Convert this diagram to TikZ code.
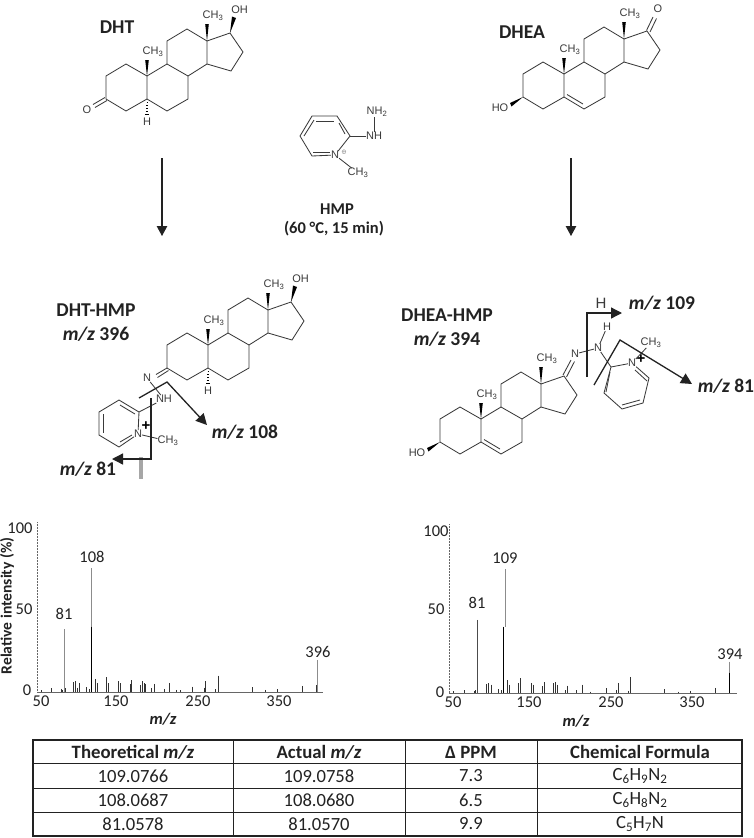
\documentclass[tikz,border=0pt]{standalone}
\usepackage{fontspec}
\setmainfont{Carlito}
\newfontfamily\chemfont{Liberation Sans}
\usetikzlibrary{arrows.meta}
\definecolor{inkdark}{HTML}{222222}
\definecolor{bondgrey}{HTML}{3A3A3A}
\tikzstyle{bond} = [line width=0.85pt, draw=bondgrey]
\tikzstyle{wedge} = [fill=black, draw=none]
\tikzstyle{atom} = [font=\chemfont\fontsize{11}{12}\selectfont, text=bondgrey, inner sep=0pt]
\tikzstyle{title} = [font=\bfseries\fontsize{19.6}{22}\selectfont, text=inkdark, inner sep=0pt]
\tikzstyle{reagent} = [font=\bfseries\fontsize{14}{17}\selectfont, text=inkdark, inner sep=0pt]
\tikzstyle{frag} = [font=\bfseries\fontsize{19.5}{20}\selectfont, text=inkdark, inner sep=0pt]
\tikzstyle{arrow} = [line width=1.1pt, draw=inkdark, -{Triangle[length=10pt,width=10.5pt]}]
\tikzstyle{cut} = [line width=1.3pt, draw=inkdark, -{Triangle[length=11pt,width=11pt]}]
\tikzstyle{tick} = [font=\fontsize{16.5}{18}\selectfont, text=inkdark, inner sep=0pt]
\tikzstyle{peak} = [line width=0.7pt, draw=black!80]
\tikzstyle{tallpeak} = [line width=0.9pt, draw=black!45]
\tikzstyle{plotaxis} = [line width=0.5pt, draw=black!60]
\tikzstyle{cell} = [font=\fontsize{18.6}{20}\selectfont, text=inkdark, inner sep=0pt]
\tikzstyle{headcell} = [cell, font=\bfseries\fontsize{18.8}{20}\selectfont]
\tikzstyle{rule} = [line width=1.1pt, draw=inkdark]
\newcommand{\mz}{\textit{m/z}}
\newcommand{\methyl}{CH\textsubscript{3}}

% four rings, origin on the ring-fusion carbon that carries the lower methyl
\newcommand{\steroidcore}{
\coordinate (C1) at (-21,-12);
\coordinate (C2) at (-41,0);
\coordinate (C3) at (-41,23);
\coordinate (C4) at (-21,35);
\coordinate (C5) at (0,23);
\coordinate (C6) at (20,35);
\coordinate (C7) at (41,23);
\coordinate (C8) at (41,0);
\coordinate (C9) at (20,-12);
\coordinate (C10) at (0,0);
\coordinate (C11) at (20,-35);
\coordinate (C12) at (40,-47);
\coordinate (C13) at (60,-35);
\coordinate (C14) at (60,-12);
\coordinate (C15) at (84,-5);
\coordinate (C16) at (96,-24);
\coordinate (C17) at (83,-43);
\draw [bond, line join=round] (C10) -- (C1) -- (C2) -- (C3) -- (C4) -- (C5) -- (C6) -- (C7) -- (C8) -- (C9) -- (C10) -- (C5);
\draw [bond, line join=round] (C9) -- (C11) -- (C12) -- (C13) -- (C14) -- (C8);
\draw [bond, line join=round] (C13) -- (C17) -- (C16) -- (C15) -- (C14);
\fill [wedge] (C10) -- (1.8,-16) -- (-1.8,-16) -- cycle;
\fill [wedge] (C13) -- (61.8,-52) -- (58.2,-52) -- cycle;
\node (lowmethyl) [atom] at (6,-24) {\methyl};
\node (topmethyl) [atom] at (66,-60) {\methyl};
}
\newcommand{\hydroxyup}{
\fill [wedge] (C17) -- (89,-58) -- (85,-59.5) -- cycle;
\node (hydroxy) [atom] at (92.5,-66.5) {OH};
}
\newcommand{\hydrogendown}{
\foreach \h in {26,29,32,35,38}
  \draw [line width=0.6pt, draw=black] ({-(\h-23)*0.11},\h) -- ({(\h-23)*0.11},\h);
\node (hydrogen) [atom] at (0,46) {H};
}

\begin{document}
\begin{tikzpicture}[x=1pt,y=-1pt]
\useasboundingbox (0,0) rectangle (754,838);

%starting steroids
\begin{scope}[shift={(147,76)}, name prefix=dht-]
\steroidcore
\hydroxyup
\hydrogendown
\draw [bond] (-42,21.5) -- (-54,28.5);
\draw [bond] (-40,24.5) -- (-52,31.5);
\node (oxo) [atom] at (-60,34) {O};
\end{scope}

\begin{scope}[shift={(564,74)}, name prefix=dhea-]
\steroidcore
\draw [bond] (3,20.5) -- (19,30);
\fill [wedge] (C3) -- (-54,29) -- (-52.5,32.5) -- cycle;
\node (hydroxy) [atom] at (-64,34) {HO};
\draw [bond] (82.5,-43.5) -- (89,-57);
\draw [bond] (86,-42) -- (92.5,-55.5);
\node (oxo) [atom] at (94,-65) {O};
\end{scope}

\node (dhtlabel) [title] at (117,27) {DHT};
\node (dhealabel) [title] at (522,32) {DHEA};

%reagent
\coordinate (hmpA) at (312,116);
\coordinate (hmpB) at (337,116);
\coordinate (hmpC) at (350,136);
\coordinate (hmpD) at (337,155);
\coordinate (hmpE) at (312,156);
\coordinate (hmpF) at (300,136);
\node (hmpN) [atom] at (335,155) {N};
\node (hmpNH) [atom] at (374,136) {NH};
\node (hmpNHtwo) [atom] at (377,112) {NH\textsubscript{2}};
\node (hmpMe) [atom] at (358,173) {\methyl};
\node (hmpPlus) [atom, font=\chemfont\fontsize{5}{6}\selectfont] at (344,152) {$\oplus$};
\draw [bond, line join=round] (hmpN) -- (hmpE) -- (hmpF) -- (hmpA) -- (hmpB) -- (hmpC) -- (hmpN);
\draw [bond] (316,121) -- (334,121);
\draw [bond] (339,123) -- (345,134);
\draw [bond] (313,152) -- (330,152);
\draw [bond] (304,136) -- (314,120);
\draw [bond] (hmpC) -- (hmpNH);
\draw [bond] (hmpNH) -- (hmpNHtwo.south -| hmpNH);
\draw [bond] (hmpN) -- (hmpMe);
\node (hmplabel) [reagent, font=\bfseries\fontsize{16.5}{18}\selectfont] at (337,209) {HMP};
\node (hmpcond) [reagent, font=\bfseries\fontsize{16.5}{18}\selectfont] at (334,229) {(60 °C, 15 min)};

\coordinate (leftTop) at (162,158);
\coordinate (leftEnd) at (162,236);
\coordinate (rightTop) at (571,158);
\coordinate (rightEnd) at (571,236);
\draw [arrow] (leftTop) -- (leftEnd);
\draw [arrow] (rightTop) -- (rightEnd);

%derivatised DHT
\begin{scope}[shift={(208,345)}, name prefix=dhthmp-]
\steroidcore
\hydroxyup
\hydrogendown
\end{scope}
\node (dhthmplabel) [title] at (96,310) {DHT-HMP};
\node (dhthmpmz) [title] at (96,334) {\mz{} 396};
\node (iminoN) [atom] at (147,378) {N};
\draw [bond] (dhthmp-C3) -- (156,374.5);
\draw [bond] (168.5,370.5) -- (157.5,377.5);
\node (hydrazoNH) [atom] at (164,399) {NH};
\coordinate (pyrA) at (119,400);
\coordinate (pyrB) at (139,412);
\coordinate (pyrC) at (139,435);
\coordinate (pyrD) at (119,447);
\coordinate (pyrE) at (99,435);
\coordinate (pyrF) at (99,412);
\node (pyrN) [atom] at (138,434) {N};
\node (pyrMe) [atom] at (168,441) {\methyl};
\node (pyrPlus) [font=\chemfont\bfseries\fontsize{15}{16}\selectfont, inner sep=0pt] at (146,426) {+};
\draw [bond, line join=round] (pyrN) -- (pyrD) -- (pyrE) -- (pyrF) -- (pyrA) -- (pyrB) -- (pyrN);
\draw [bond] (103,414) -- (103,433);
\draw [bond] (120,405) -- (135,414);
\draw [bond] (120,442) -- (132,435);
\draw [bond] (pyrB) -- (hydrazoNH);
\draw [bond] (iminoN) -- (hydrazoNH);
\draw [bond] (pyrN) -- (pyrMe);
\coordinate (cutAstart) at (139,398);
\coordinate (cutAbend) at (167,382);
\coordinate (cutAend) at (207,425);
\coordinate (cutBstart) at (151,398);
\coordinate (cutBbend) at (151,459);
\coordinate (cutBend) at (112,459);
\coordinate (barTop) at (141,457);
\coordinate (barEnd) at (141,479);
\draw [cut] (cutAstart) -- (cutAbend) -- (cutAend);
\draw [line width=4pt, draw=black!35] (barTop) -- (barEnd);
\draw [cut] (cutBstart) -- (cutBbend) -- (cutBend);
\node (mzonezeroeight) [frag] at (245,432) {\mz{} 108};
\node (mzeightyone) [frag] at (88,469) {\mz{} 81};

%derivatised DHEA
\begin{scope}[shift={(481,419)}, name prefix=dheahmp-]
\steroidcore
\draw [bond] (3,20.5) -- (19,30);
\fill [wedge] (C3) -- (-54,29) -- (-52.5,32.5) -- cycle;
\node (hydroxy) [atom] at (-64,34) {HO};
\end{scope}
\node (dheahmplabel) [title] at (447,315) {DHEA-HMP};
\node (dheahmpmz) [title] at (447,339) {\mz{} 394};
\node (iminoNb) [atom] at (575,354) {N};
\node (hydrazoN) [atom] at (598,348) {N};
\node (hydrazoH) [atom] at (607,327) {H};
\draw [bond] (563,375) -- (571,360);
\draw [bond] (566.5,377) -- (574.5,361.5);
\draw [bond] (iminoNb) -- (hydrazoN);
\draw [bond] (hydrazoN) -- (hydrazoH);
\coordinate (ringA) at (611,367);
\coordinate (ringC) at (649,378);
\coordinate (ringD) at (643,403);
\coordinate (ringE) at (622,409);
\coordinate (ringF) at (604,393);
\node (ringN) [atom] at (632,363) {N};
\node (ringMe) [atom] at (651,343) {\methyl};
\node (ringPlus) [font=\chemfont\bfseries\fontsize{15}{16}\selectfont, inner sep=0pt] at (641,359) {+};
\draw [bond, line join=round] (ringN) -- (ringA) -- (ringF) -- (ringE) -- (ringD) -- (ringC) -- (ringN);
\draw [bond] (610,372) -- (606,392);
\draw [bond] (622,405) -- (640,400);
\draw [bond] (635,370) -- (647,381);
\draw [bond] (hydrazoN) -- (ringA);
\draw [bond] (ringN) -- (ringMe);
\coordinate (cutCstart) at (587,377);
\coordinate (cutCbend) at (587,313);
\coordinate (cutCend) at (622,313);
\coordinate (cutDstart) at (594,385);
\coordinate (cutDbend) at (620,340);
\coordinate (cutDend) at (692,384);
\draw [cut] (cutCstart) -- (cutCbend) -- (cutCend);
\draw [cut] (cutDstart) -- (cutDbend) -- (cutDend);
\node (transferH) [atom, font=\chemfont\fontsize{15}{17}\selectfont] at (601,303) {H};
\node (mzonezeronine) [frag] at (662,303) {\mz{} 109};
\node (mzeightyoneb) [frag] at (726,386) {\mz{} 81};

%left spectrum
\draw [plotaxis, densely dotted] (37,522) -- (37,692);
\draw [plotaxis] (37,692) -- (323,692);
\begin{scope}[shift={(0,510)}, x=0.3333pt, y=-0.3333pt]
\foreach \px/\ptop in {125/541,155/535,185/537,188/540,195/535,220/517,226/514,232/533,238/519,259/532,268/537,286/507,292/520,320/502,324/520,318/530,355/514,360/520,390/523,394/511,422/525,426/514,432/520,436/522,455/535,463/522,492/537,508/519,530/540,540/541,578/530,612/533,615/514,645/538,654/497,757/532,795/540,833/538,907/528,950/525}
  \draw [peak] (\px,\ptop) -- (\px,545);
\draw [tallpeak] (192,358) -- (192,545);
\draw [tallpeak] (275,175) -- (275,350);
\draw [line width=0.9pt, draw=black] (274,350) -- (274,545);
\draw [tallpeak] (953,450) -- (953,545);
\end{scope}
\node (lefthundred) [tick] at (20,528) {100};
\node (leftfifty) [tick] at (24,609) {50};
\node (leftzero) [tick] at (27,690) {0};
\node (leftxa) [tick] at (41,701) {50};
\node (leftxb) [tick] at (116,701) {150};
\node (leftxc) [tick] at (198,701) {250};
\node (leftxd) [tick] at (279,701) {350};
\node (leftpeaka) [tick] at (64,614) {81};
\node (leftpeakb) [tick] at (92,557) {108};
\node (leftpeakc) [tick] at (318,652) {396};
\node (leftxlabel) [tick, font=\bfseries\itshape\fontsize{16.5}{17}\selectfont] at (163,719) {m/z};
\node (leftylabel) [tick, font=\bfseries\fontsize{15.6}{17}\selectfont, rotate=90] at (7,606) {Relative intensity (\%)};

%right spectrum
\draw [plotaxis, densely dotted] (449,524) -- (449,693);
\draw [plotaxis] (449,693) -- (737,693);
\begin{scope}[shift={(400,510)}, x=0.3333pt, y=-0.3333pt]
\foreach \px/\ptop in {161/544,194/541,222/544,225/541,259/522,265/520,273/524,296/538,304/541,310/522,323/511,328/524,356/520,360/505,393/519,400/524,426/529,432/517,459/520,465/517,472/524,495/541,503/527,530/541,547/524,570/545,618/535,650/540,656/519,684/543,691/501,794/538,835/545,870/543,945/534}
  \draw [peak] (\px,\ptop) -- (\px,549);
\draw [line width=0.8pt, draw=black!70] (231,330) -- (231,549);
\draw [tallpeak] (315,177) -- (315,350);
\draw [line width=0.9pt, draw=black] (311,350) -- (311,549);
\draw [tallpeak] (987,455) -- (987,488);
\draw [line width=0.9pt, draw=black] (987,488) -- (987,549);
\end{scope}
\node (righthundred) [tick] at (436,531) {100};
\node (rightfifty) [tick] at (436,609) {50};
\node (rightzero) [tick] at (440,692) {0};
\node (rightxa) [tick] at (453,702) {50};
\node (rightxb) [tick] at (529,702) {150};
\node (rightxc) [tick] at (611,702) {250};
\node (rightxd) [tick] at (692,702) {350};
\node (rightpeaka) [tick] at (477,603) {81};
\node (rightpeakb) [tick] at (505,558) {109};
\node (rightpeakc) [tick] at (730,654) {394};
\node (rightxlabel) [tick, font=\bfseries\itshape\fontsize{16.5}{17}\selectfont] at (576,721) {m/z};

%table
\draw [rule] (33,740) rectangle (742,836);
\foreach \ypos in {763,788,812}
  \draw [rule, line width=0.8pt] (33,\ypos) -- (742,\ypos);
\foreach \xpos in {233,405,537}
  \draw [rule, line width=0.8pt] (\xpos,740) -- (\xpos,836);
\node (headA) [headcell] at (133,752) {Theoretical \mz};
\node (headB) [headcell] at (319,752) {Actual \mz};
\node (headC) [headcell] at (471,752) {Δ PPM};
\node (headD) [headcell] at (640,752) {Chemical Formula};
\node (cellAa) [cell] at (133,776) {109.0766};
\node (cellAb) [cell] at (319,776) {109.0758};
\node (cellAc) [cell] at (471,776) {7.3};
\node (cellAd) [cell] at (640,776) {C\textsubscript{6}H\textsubscript{9}N\textsubscript{2}};
\node (cellBa) [cell] at (133,800) {108.0687};
\node (cellBb) [cell] at (319,800) {108.0680};
\node (cellBc) [cell] at (471,800) {6.5};
\node (cellBd) [cell] at (640,800) {C\textsubscript{6}H\textsubscript{8}N\textsubscript{2}};
\node (cellCa) [cell] at (133,824) {81.0578};
\node (cellCb) [cell] at (319,824) {81.0570};
\node (cellCc) [cell] at (471,824) {9.9};
\node (cellCd) [cell] at (640,824) {C\textsubscript{5}H\textsubscript{7}N};

\end{tikzpicture}
\end{document}
